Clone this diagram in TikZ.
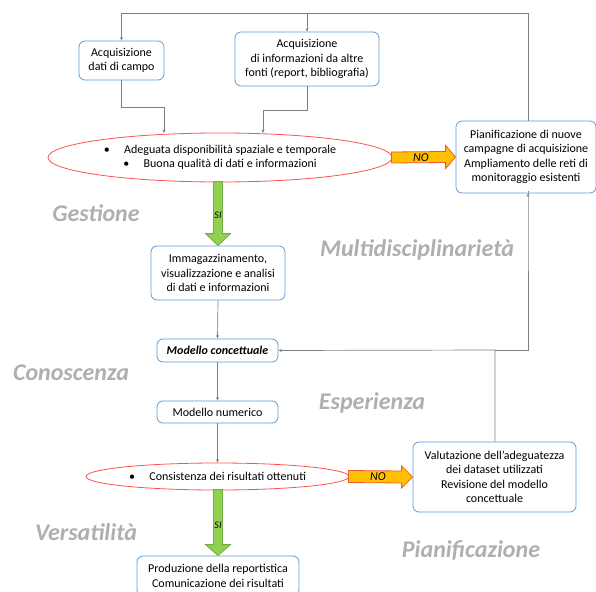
\documentclass[tikz,border=0pt]{standalone}
\usepackage{fontspec}
\setmainfont{Carlito}
\usetikzlibrary{arrows.meta,shapes.geometric,calc}
\definecolor{boxblue}{RGB}{91,155,213}
\definecolor{ellred}{RGB}{255,80,80}
\definecolor{lnkgray}{RGB}{128,128,128}
\definecolor{noorange}{RGB}{255,192,0}
\definecolor{noborder}{RGB}{237,90,50}
\definecolor{sigreen}{RGB}{146,208,80}
\definecolor{siborder}{RGB}{112,173,71}
\definecolor{wmgray}{RGB}{175,175,175}

\begin{document}
\begin{tikzpicture}[x=1pt,y=-1pt, >={Stealth[length=3.5pt,width=3pt]},
  font=\fontsize{12}{14.5}\selectfont,
  box/.style={draw=boxblue, line width=0.8pt, rounded corners=6pt, align=center, inner sep=2pt},
  cond/.style={ellipse, draw=ellred, line width=0.8pt, align=center, inner sep=0pt},
  link/.style={draw=lnkgray, line width=0.7pt, ->},
  noarr/.style={fill=noorange, draw=noborder, line width=0.8pt, line join=miter},
  siarr/.style={fill=sigreen, draw=siborder, line width=0.8pt, line join=miter},
  wm/.style={text=wmgray, font=\fontsize{24}{28}\selectfont\bfseries\itshape}]
\useasboundingbox (0,0) rectangle (596,591);

% acquisizione
\node (campo) at (121.5,60.5) [box, minimum width=85, minimum height=39] {Acquisizione\\dati di campo};
\node (altre) at (307,59) [box, minimum width=144, minimum height=54] {Acquisizione\\di informazioni da altre\\fonti (report, bibliografia)};
\node (ell1) at (220,157.5) [cond, minimum width=344, minimum height=49] {\textbullet\hspace{1.2em}Adeguata disponibilità spaziale e temporale\\\textbullet\hspace{1.2em}Buona qualità di dati e informazioni};
\node (pian) at (526,157) [box, minimum width=140, minimum height=72] {Pianificazione di nuove\\campagne di acquisizione\\Ampliamento delle reti di\\monitoraggio esistenti};

% modelli
\node (immag) at (218,273) [box, minimum width=134, minimum height=54] {Immagazzinamento,\\visualizzazione e analisi\\di dati e informazioni};
\node (concett) at (217.5,350.5) [box, minimum width=121, minimum height=23] {\textbf{\textit{Modello concettuale}}};
\node (numerico) at (217.5,412) [box, minimum width=121, minimum height=22] {Modello numerico};
\node (ell2) at (217.5,476.5) [cond, minimum width=263, minimum height=27] {\textbullet\hspace{1.2em}Consistenza dei risultati ottenuti};
\node (valut) at (494.5,477) [box, minimum width=163, minimum height=70] {Valutazione dell’adeguatezza\\dei dataset utilizzati\\Revisione del modello\\concettuale};
\node (produz) at (218,576) [box, minimum width=162, minimum height=40] {Produzione della reportistica\\Comunicazione dei risultati};

% scritte di sfondo
\node (gest) at (96,213) [wm] {Gestione};
\node (multi) at (417,250) [wm] {Multidisciplinarietà};
\node (conos) at (71,373) [wm] {Conoscenza};
\node (esper) at (372,403) [wm] {Esperienza};
\node (versa) at (86,532) [wm] {Versatilità};
\node (piani) at (471,550) [wm] {Pianificazione};

% collegamenti
\coordinate (top) at (0,13);
\draw[link] (pian.north -| 528,0) |- (top -| campo.north) -- (campo.north);
\draw[link] (top -| altre.north) -- (altre.north);
\draw[link] (campo.south) |- (164,107) -- (164,133);
\draw[link] (altre.south) |- (263,110) -- (263,133);
\draw[link] (immag.south) -- (concett.north);
\draw[link] (concett.south) -- (numerico.north);
\draw[link] (numerico.south) -- (ell2.north);
\coordinate (ret) at (495,350);
\draw[link] (valut.north -| ret) -- (ret) -- (concett.east);
\draw[link] (ret) -| (pian.south -| 528,0) -- (pian.south -| 528,0);

% frecce NO
\draw[noarr] ($(ell1.east)+(-1,-5.5)$) -- ($(pian.west)+(-10,-5.5)$) -- ($(pian.west)+(-10,-11.5)$)
  -- (pian.west) -- ($(pian.west)+(-10,11.5)$) -- ($(pian.west)+(-10,5.5)$) -- ($(ell1.east)+(-1,5.5)$) -- cycle;
\node (no1) at ($(ell1.east)!.45!(pian.west)$) {\textit{NO}};
\draw[noarr] ($(ell2.east)+(-1,-6)$) -- ($(valut.west)+(-11,-6)$) -- ($(valut.west)+(-11,-11)$)
  -- (valut.west) -- ($(valut.west)+(-11,11)$) -- ($(valut.west)+(-11,6)$) -- ($(ell2.east)+(-1,6)$) -- cycle;
\node (no2) at ($(ell2.east)!.45!(valut.west)$) {\textit{NO}};

% frecce SI
\draw[siarr] ($(ell1.south -| immag.north)+(-4.5,-1)$) -- ($(immag.north)+(-4.5,-12)$) -- ($(immag.north)+(-12.5,-12)$)
  -- (immag.north) -- ($(immag.north)+(12.5,-12)$) -- ($(immag.north)+(4.5,-12)$) -- ($(ell1.south -| immag.north)+(4.5,-1)$) -- cycle;
\node (si1) at (218,215) [font=\fontsize{10}{11}\selectfont\itshape] {SI};
\draw[siarr] ($(ell2.south -| produz.north)+(-4.5,-1)$) -- ($(produz.north)+(-4.5,-11)$) -- ($(produz.north)+(-12.5,-11)$)
  -- (produz.north) -- ($(produz.north)+(12.5,-11)$) -- ($(produz.north)+(4.5,-11)$) -- ($(ell2.south -| produz.north)+(4.5,-1)$) -- cycle;
\node (si2) at (218,525) [font=\fontsize{10}{11}\selectfont\itshape] {SI};
\end{tikzpicture}
\end{document}
